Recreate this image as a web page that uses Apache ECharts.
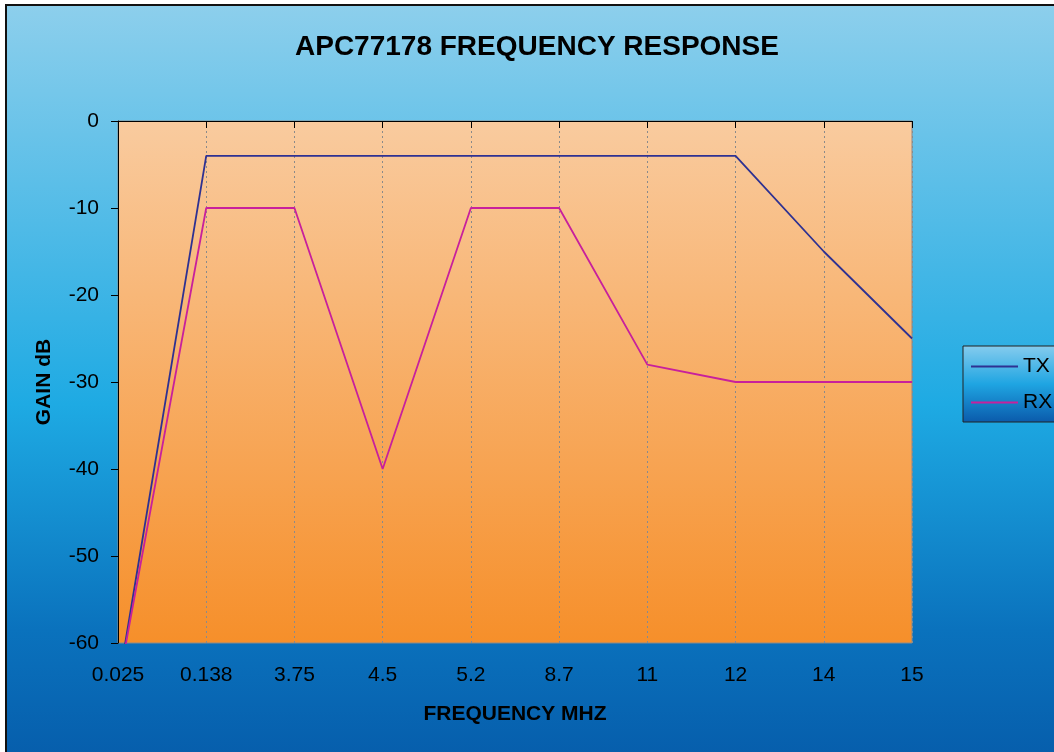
<!DOCTYPE html>
<html>
<head>
<meta charset="utf-8">
<script src="https://cdn.jsdelivr.net/npm/echarts@6/dist/echarts.min.js"></script>
<style>
  html, body { margin: 0; padding: 0; background: #fff; }
  #main { width: 1054px; height: 752px; }
</style>
</head>
<body>
<div id="main"></div>
<script>
// frequency points (MHz) on the category axis
var freqs = ['0.025', '0.138', '3.75', '4.5', '5.2', '8.7', '11', '12', '14', '15'];
// gain in dB
var txGain = [-65, -4, -4, -4, -4, -4, -4, -4, -15, -25];
var rxGain = [-65, -10, -10, -40, -10, -10, -28, -30, -30, -30];

var font = 'Arial, "Liberation Sans", Helvetica, sans-serif';

var chart = echarts.init(document.getElementById('main'));
chart.setOption({
  backgroundColor: 'transparent',
  animation: false,
  graphic: [{
    type: 'rect',
    z: -10,
    shape: { x: 6, y: 5, width: 1100, height: 800 },
    style: {
      fill: new echarts.graphic.LinearGradient(0, 0, 0, 1, [
        { offset: 0, color: '#8dcfec' },
        { offset: 0.5, color: '#1eaae3' },
        { offset: 0.78, color: '#0a72bd' },
        { offset: 1, color: '#0556a5' }
      ]),
      stroke: '#111',
      lineWidth: 2
    }
  }],
  title: {
    text: 'APC77178 FREQUENCY RESPONSE',
    left: 290,
    top: 28,
    textStyle: { fontFamily: font, fontSize: 28, fontWeight: 'bold', color: '#000' }
  },
  legend: {
    orient: 'vertical',
    left: 963,
    top: 346,
    padding: [10, 40, 9, 8],
    itemGap: 15,
    itemWidth: 47,
    itemHeight: 2,
    icon: 'rect',
    backgroundColor: new echarts.graphic.LinearGradient(0, 0, 0, 1, [
      { offset: 0, color: '#86ccee' },
      { offset: 0.5, color: '#1fa5e2' },
      { offset: 1, color: '#0a5aab' }
    ]),
    borderColor: '#222',
    borderWidth: 1,
    textStyle: { fontFamily: font, fontSize: 21, color: '#000' },
    data: ['TX', 'RX']
  },
  grid: {
    left: 118,
    top: 121,
    right: 142,
    bottom: 109,
    show: true,
    borderColor: '#8a8a8a',
    borderWidth: 1,
    backgroundColor: new echarts.graphic.LinearGradient(0, 0, 0, 1, [
      { offset: 0, color: '#f9cb9f' },
      { offset: 1, color: '#f68f2a' }
    ])
  },
  xAxis: {
    type: 'category',
    data: freqs,
    boundaryGap: false,
    name: 'FREQUENCY MHZ',
    nameLocation: 'middle',
    nameGap: 61,
    nameTextStyle: { fontFamily: font, fontSize: 21, fontWeight: 'bold', color: '#000' },
    axisLine: { lineStyle: { color: '#000', width: 1 } },
    axisTick: { show: true, length: 7, inside: false, lineStyle: { color: '#000' } },
    axisLabel: { fontFamily: font, fontSize: 21, color: '#000', margin: 22 },
    splitLine: { show: true, lineStyle: { color: '#8a8a8a', type: [2, 3], width: 1 } }
  },
  yAxis: {
    type: 'value',
    min: -60,
    max: 0,
    interval: 10,
    name: 'GAIN dB',
    nameLocation: 'middle',
    nameGap: 63,
    nameTextStyle: { fontFamily: font, fontSize: 21, fontWeight: 'bold', color: '#000' },
    axisLine: { show: true, lineStyle: { color: '#000', width: 1 } },
    axisTick: { show: true, length: 7, inside: false, lineStyle: { color: '#000' } },
    axisLabel: { fontFamily: font, fontSize: 21, color: '#000', margin: 19 },
    splitLine: { show: false }
  },
  series: [{
    name: 'TX',
    type: 'line',
    data: txGain,
    symbol: 'none',
    clip: true,
    lineStyle: { color: '#2e3192', width: 1.8 },
    itemStyle: { color: '#2e3192' }
  }, {
    name: 'RX',
    type: 'line',
    data: rxGain,
    symbol: 'none',
    clip: true,
    lineStyle: { color: '#c8209c', width: 1.8 },
    itemStyle: { color: '#c8209c' }
  }]
});
</script>
</body>
</html>
